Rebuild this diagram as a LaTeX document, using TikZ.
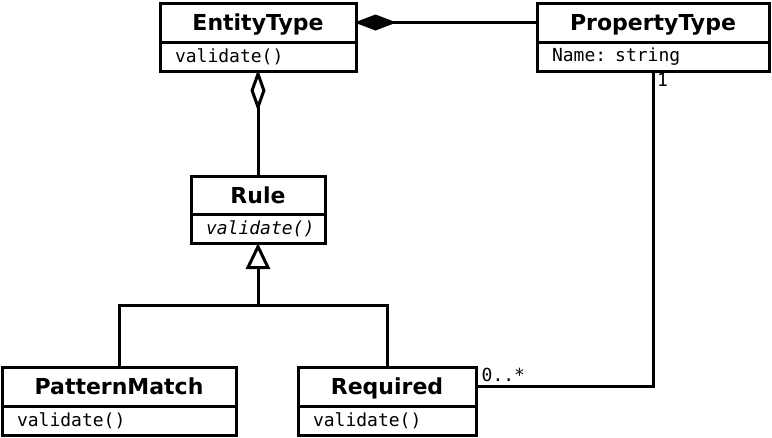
\documentclass[tikz,border=0pt]{standalone}
\usepackage{fontspec}
\setmainfont{DejaVu Sans}
\newfontfamily\monof{DejaVu Sans Mono}
\usetikzlibrary{arrows.meta}
\begin{document}
\begin{tikzpicture}[x=1pt,y=-1pt,
  lw/.style={line width=3pt},
  ttl/.style={draw,lw,minimum height=39pt,inner sep=0pt,text height=16pt,text depth=0pt,font=\fontsize{22}{26}\selectfont\bfseries},
  attr/.style={draw,lw,minimum height=29pt,inner xsep=15pt,inner ysep=0pt,align=left,font=\fontsize{18}{21}\selectfont\monof},
  conn/.style={lw},
  comp/.style={lw,shorten >=-3pt,-{Diamond[length=42pt,width=16pt,fill=black]}},
  agg/.style={lw,shorten >=-3pt,-{Diamond[open,length=42pt,width=15pt,fill=white]}},
  gen/.style={lw,shorten >=-1.5pt,-{Triangle[open,length=26pt,width=24pt,fill=white]}},
  mult/.style={inner sep=1pt,font=\fontsize{18}{21}\selectfont\monof}]
\useasboundingbox (0,0) rectangle (772,437);
% EntityType
\node[ttl,minimum width=196pt] (ett) at (258,22.5) {EntityType};
\node[attr,text width=166pt] (eta) at (258,56.5) {validate()};
% PropertyType
\node[ttl,minimum width=232pt] (ptt) at (653,22.5) {PropertyType};
\node[attr,text width=202pt] (pta) at (653,56.5) {Name: string};
% Rule
\node[ttl,minimum width=134pt,minimum height=38pt] (rut) at (258,195) {Rule};
\node[attr,text width=104pt,align=center] (rua) at (258,228.5) {\itshape validate()};
% PatternMatch
\node[ttl,minimum width=234pt] (pmt) at (119,386.5) {PatternMatch};
\node[attr,text width=204pt] (pma) at (119,420.5) {validate()};
% Required
\node[ttl,minimum width=178pt] (ret) at (387,386.5) {Required};
\node[attr,text width=148pt] (rea) at (387,420.5) {validate()};
% connectors
\draw[comp] (ptt.west) -- (ett.east);
\draw[agg] (rut.north) -- (eta.south);
\coordinate (j) at (258,305);
\draw[conn] (pmt.north) |- (j) -| (ret.north);
\draw[gen] (j) -- (rua.south);
\draw[conn] (pta.south) |- (ret.east);
\node[mult,anchor=north west] (m1) at ([xshift=3pt]pta.south) {1};
\node[mult,anchor=south west] (m2) at ([xshift=3pt,yshift=4pt]ret.east) {0..*};
\end{tikzpicture}
\end{document}
